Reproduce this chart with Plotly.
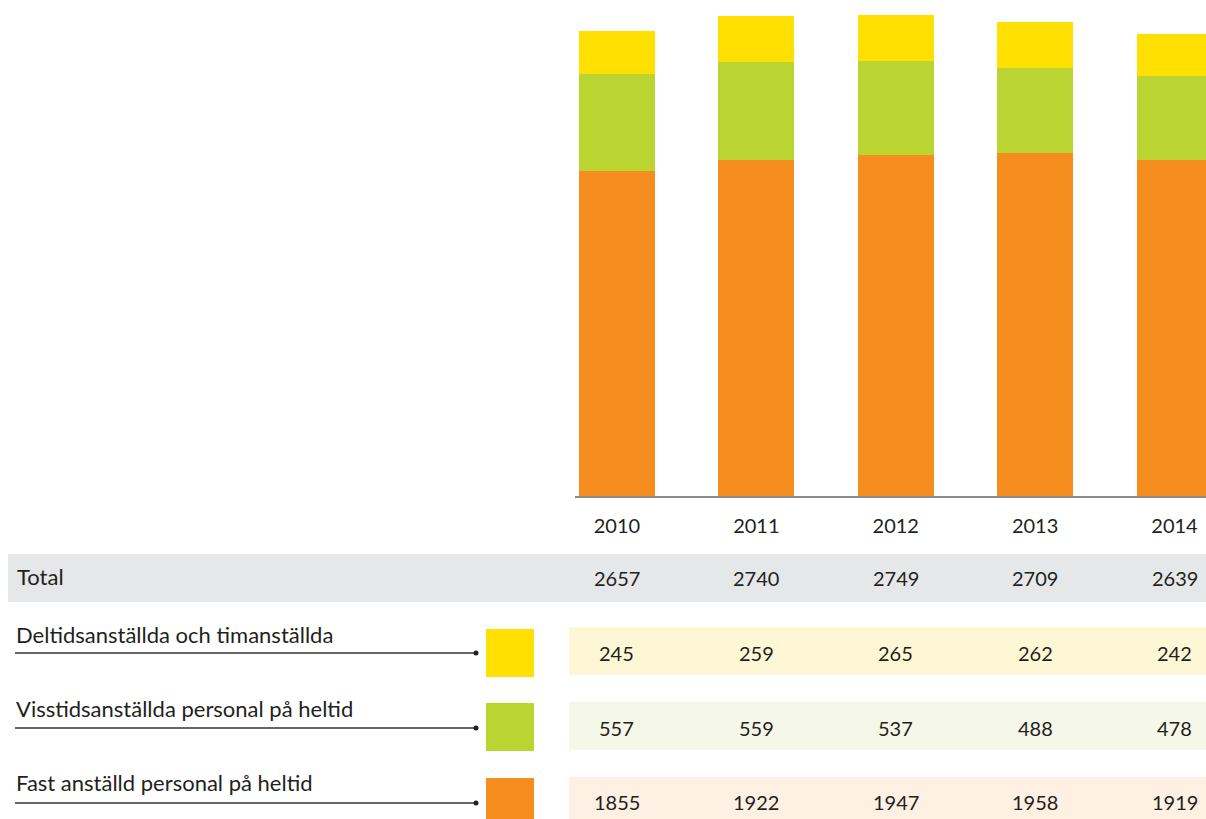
import plotly.graph_objects as go

years = ["2010", "2011", "2012", "2013", "2014"]
fast = [1855, 1922, 1947, 1958, 1919]
visstid = [557, 559, 537, 488, 478]
deltid = [245, 259, 265, 262, 242]
totals = [2657, 2740, 2749, 2709, 2639]
row_labels = ["Deltidsanställda och timanställda",
              "Visstidsanställda personal på heltid",
              "Fast anställd personal på heltid"]

C_ORANGE = "#F58D1F"
C_GREEN = "#BAD532"
C_YELLOW = "#FFE000"
TXT = "#231F20"
FONT = "Lato"
NUM_SIZE = 20
LAB_SIZE = 22
WEIGHT = 400

W, H = 1206, 819


def px(x):
    return x / W


def py(y):
    return 1 - y / H


def fnt(size):
    return dict(family=FONT, size=size, color=TXT, weight=WEIGHT)


fig = go.Figure()
for name, vals, col in [("Fast anställd personal på heltid", fast, C_ORANGE),
                        ("Visstidsanställda personal på heltid", visstid, C_GREEN),
                        ("Deltidsanställda och timanställda", deltid, C_YELLOW)]:
    fig.add_trace(go.Bar(x=years, y=vals, name=name, marker=dict(color=col, line=dict(width=0)),
                         width=0.545, hoverinfo="y"))

shapes = []
annotations = []

# grey total band
shapes.append(dict(type="rect", xref="paper", yref="paper", x0=px(8), x1=1, y0=py(602), y1=py(554),
                   fillcolor="#E6E7E8", line=dict(width=0), layer="below"))
annotations.append(dict(xref="paper", yref="paper", x=px(15), y=py(576), text="Total", showarrow=False,
                        xanchor="left", yanchor="middle", font=fnt(LAB_SIZE)))
for i, t in enumerate(totals):
    annotations.append(dict(xref="x", yref="paper", x=i, y=py(578), text=str(t), showarrow=False,
                            xanchor="center", yanchor="middle", font=fnt(NUM_SIZE)))

rows = [
    (row_labels[0], deltid, C_YELLOW, "#FEF7D5", 627, 675, 634, 653, 629, 677, 653),
    (row_labels[1], visstid, C_GREEN, "#F5F7E8", 702, 750, 708, 728, 703, 751, 728),
    (row_labels[2], fast, C_ORANGE, "#FEF0E2", 777, 830, 782, 803, 778, 830, 802),
]
for label, vals, col, light, b0, b1, ty, ly, s0, s1, vy in rows:
    shapes.append(dict(type="rect", xref="paper", yref="paper", x0=px(569), x1=1, y0=py(b1), y1=py(b0),
                       fillcolor=light, line=dict(width=0), layer="below"))
    shapes.append(dict(type="rect", xref="paper", yref="paper", x0=px(486), x1=px(534), y0=py(s1), y1=py(s0),
                       fillcolor=col, line=dict(width=0)))
    shapes.append(dict(type="line", xref="paper", yref="paper", x0=px(15), x1=px(476), y0=py(ly), y1=py(ly),
                       line=dict(color="#333333", width=1.5)))
    shapes.append(dict(type="circle", xref="paper", yref="paper", x0=px(473.5), x1=px(478.5),
                       y0=py(ly + 2.5), y1=py(ly - 2.5), fillcolor="#222222", line=dict(width=0)))
    annotations.append(dict(xref="paper", yref="paper", x=px(14), y=py(ty), text=label, showarrow=False,
                            xanchor="left", yanchor="middle", font=fnt(LAB_SIZE)))
    for i, v in enumerate(vals):
        annotations.append(dict(xref="x", yref="paper", x=i, y=py(vy), text=str(v), showarrow=False,
                                xanchor="center", yanchor="middle", font=fnt(NUM_SIZE)))

fig.update_layout(
    width=W, height=H,
    margin=dict(l=0, r=0, t=0, b=0),
    barmode="stack",
    showlegend=False,
    paper_bgcolor="white",
    plot_bgcolor="white",
    shapes=shapes,
    annotations=annotations,
    xaxis=dict(domain=[575 / W, 1], range=[-0.301, 4.226], type="category",
               showline=True, linecolor="#8C8C8C", linewidth=1.5, showgrid=False, zeroline=False,
               ticks="", tickfont=fnt(NUM_SIZE), ticklabelstandoff=11),
    yaxis=dict(domain=[py(496), 1], range=[0, 2834], visible=False, showgrid=False, zeroline=False),
)

fig.write_html("out.html", config={"displayModeBar": False},
               post_script="document.body.style.margin='0';document.body.style.overflow='hidden';")
